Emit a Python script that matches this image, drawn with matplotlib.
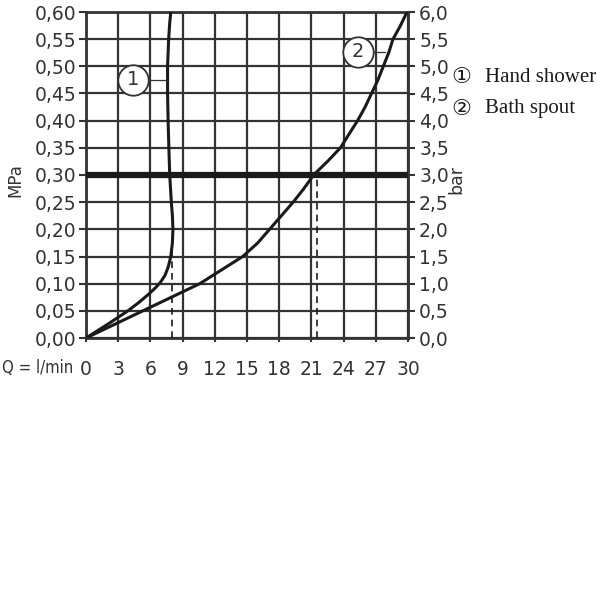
import numpy as np
import matplotlib
matplotlib.use("Agg")
import matplotlib.pyplot as plt

# flow rate (l/min) vs pressure (MPa)
hand_q = [0, 2.0, 3.9, 4.9, 5.8, 6.5, 6.95, 7.35, 7.65, 7.9, 8.05, 8.1, 8.05, 7.95, 7.8, 7.72, 7.65, 7.6, 7.6, 7.7, 7.8, 7.9]
hand_p = [0, 0.025, 0.05, 0.065, 0.08, 0.093, 0.103, 0.115, 0.13, 0.15, 0.175, 0.20, 0.225, 0.25, 0.30, 0.35, 0.40, 0.45, 0.50, 0.55, 0.58, 0.60]
spout_q = [0, 5.3, 10.6, 12.6, 14.6, 16.0, 17.1, 18.2, 19.3, 20.3, 21.2, 22.5, 23.7, 24.5, 25.3, 26.0, 26.6, 27.2, 27.7, 28.2, 28.6, 29.3, 29.9]
spout_p = [0, 0.05, 0.10, 0.125, 0.15, 0.175, 0.20, 0.225, 0.25, 0.275, 0.30, 0.325, 0.35, 0.375, 0.40, 0.425, 0.45, 0.475, 0.50, 0.525, 0.55, 0.575, 0.60]

x_ticks = list(range(0, 31, 3))
mpa_ticks = [round(i * 0.05, 2) for i in range(13)]
bar_ticks = [round(i * 0.5, 1) for i in range(13)]
ref_p = 0.30
hand_q_ref = 8.0
spout_q_ref = 21.5
hand_p_ref = 0.16

curve_labels = ["1", "2"]
legend_items = [("\u2460", "Hand shower"), ("\u2461", "Bath spout")]

dark = "#333333"
ink = "#1a1a1a"
fig = plt.figure(figsize=(6, 6), dpi=100)
ax = fig.add_axes([86 / 600, 1 - 338 / 600, 322 / 600, 326 / 600])
ax.set_xlim(0, 30)
ax.set_ylim(0, 0.6)
ax.set_xticks(x_ticks)
ax.set_yticks(mpa_ticks)
ax.set_xticklabels([str(v) for v in x_ticks])
ax.set_yticklabels([f"{v:.2f}".replace(".", ",") for v in mpa_ticks])
ax.grid(True, color=dark, lw=1.6)
ax.set_axisbelow(True)
for s in ax.spines.values():
    s.set_color(dark)
    s.set_linewidth(2)
ax.tick_params(colors=dark, width=1.5, length=5, labelsize=13.5, pad=2)
ax.tick_params(axis="x", length=3, pad=13)

ax.axhline(ref_p, color=ink, lw=4.5, zorder=3)
ax.plot([hand_q_ref, hand_q_ref], [0, hand_p_ref], ls=(0, (4, 3)), color=ink, lw=1.2, zorder=3)
ax.plot([spout_q_ref, spout_q_ref], [0, ref_p], ls=(0, (4, 3)), color=ink, lw=1.2, zorder=3)

ax.plot(hand_q, hand_p, color=ink, lw=2.2, zorder=4)
ax.plot(spout_q, spout_p, color=ink, lw=2.2, zorder=4)

# circled curve labels with leader lines
for (cx, cy, lx), num in zip([(4.4, 0.475, 7.6), (25.3, 0.527, 27.9)], curve_labels):
    ax.plot([cx, lx], [cy, cy], color=dark, lw=0.9, zorder=4)
    ax.scatter([cx], [cy], s=480, marker="o", facecolor="white", edgecolor=dark, lw=1.3, zorder=5)
    ax.text(cx, cy, num, ha="center", va="center", fontsize=14, color=dark, zorder=6)

ax2 = ax.twinx()
ax2.set_ylim(0, 6)
ax2.set_yticks(bar_ticks)
ax2.set_yticklabels([f"{v:.1f}".replace(".", ",") for v in bar_ticks])
ax2.tick_params(colors=dark, width=1.5, length=5, labelsize=13.5, pad=3)
for s in ax2.spines.values():
    s.set_visible(False)

fig.text(15 / 600, 1 - 180 / 600, "MPa", rotation=90, ha="center", va="center", fontsize=12, color=dark)
fig.text(456 / 600, 1 - 180 / 600, "bar", rotation=90, ha="center", va="center", fontsize=12.5, color=dark)
fig.text(2 / 600, 1 - 368 / 600, "Q = l/min", ha="left", va="center", fontsize=12, color=dark,
         fontstretch="condensed", family=["Liberation Sans Narrow", "DejaVu Sans"])

for i, (sym, name) in enumerate(legend_items):
    y = 1 - (77 + 32 * i) / 600
    fig.text(461 / 600, y, sym, ha="center", va="center", fontsize=16, color=ink,
             family=["DejaVu Sans"])
    fig.text(485 / 600, y, name, ha="left", va="center", fontsize=15, color=ink,
             family=["Liberation Serif"])

fig.savefig("out.png", dpi=100)
